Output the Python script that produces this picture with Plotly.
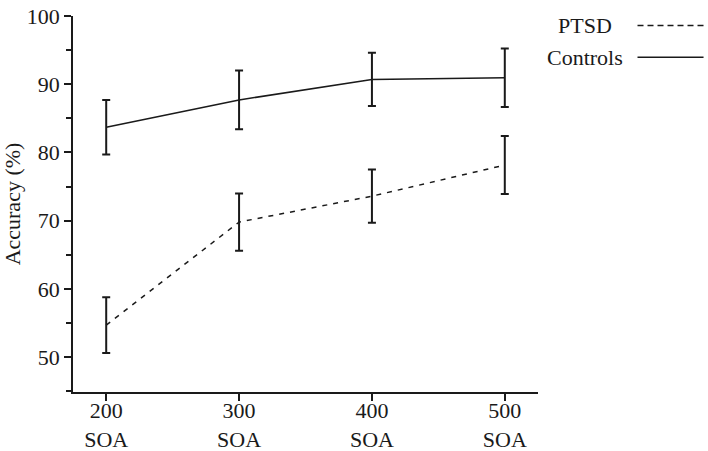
import plotly.graph_objects as go

categories = ["200<br>SOA", "300<br>SOA", "400<br>SOA", "500<br>SOA"]
controls = [83.7, 87.7, 90.7, 90.95]
controls_err = [4.0, 4.3, 3.9, 4.3]
ptsd = [54.7, 69.8, 73.6, 78.15]
ptsd_err = [4.1, 4.2, 3.9, 4.25]
y_ticks = [50, 60, 70, 80, 90, 100]

FONT = "Liberation Serif, Times New Roman, Times, serif"
INK = "#1a1a1a"

fig = go.Figure()
fig.add_trace(go.Scatter(
    x=categories, y=controls, mode="lines", name="Controls",
    line=dict(color=INK, width=1.5),
    error_y=dict(type="data", array=controls_err, color=INK, thickness=2, width=4),
    showlegend=False,
))
fig.add_trace(go.Scatter(
    x=categories, y=ptsd, mode="lines", name="PTSD",
    line=dict(color=INK, width=1.5, dash="5px,6px"),
    error_y=dict(type="data", array=ptsd_err, color=INK, thickness=2, width=4),
    showlegend=False,
))

fig.update_layout(
    width=708, height=451,
    margin=dict(l=73, r=170, t=16, b=59),
    plot_bgcolor="white", paper_bgcolor="white",
    font=dict(family=FONT, size=22, color=INK),
    xaxis=dict(
        type="category", range=[-0.25, 3.25], automargin=False,
        showline=True, linecolor=INK, linewidth=1.5,
        ticks="outside", ticklen=7, tickwidth=1.5, tickcolor=INK,
        showgrid=False, zeroline=False, ticklabelstandoff=-9,
        tickfont=dict(family=FONT, size=22, color=INK),
    ),
    yaxis=dict(
        range=[44.9, 100], tickvals=y_ticks, automargin=False,
        showline=True, linecolor=INK, linewidth=1.5,
        ticks="outside", ticklen=7, tickwidth=1.5, tickcolor=INK,
        minor=dict(dtick=5, tick0=0, ticks="outside", ticklen=5, tickwidth=1.5, tickcolor=INK),
        showgrid=False, zeroline=False,
        tickfont=dict(family=FONT, size=22, color=INK),
        title=dict(text="Accuracy (%)", font=dict(family=FONT, size=22, color=INK), standoff=6),
    ),
)

# Legend drawn manually: label on the left, line sample on the right
legend_items = [("PTSD", 0.975, "6px,4px"), ("Controls", 0.890, "solid")]
for label, yy, dash in legend_items:
    fig.add_annotation(
        x=1.102, y=yy, xref="paper", yref="paper", text=label, showarrow=False,
        xanchor="center", yanchor="middle",
        font=dict(family=FONT, size=22, color=INK),
    )
    fig.add_shape(
        type="line", xref="paper", yref="paper",
        x0=1.214, x1=1.356, y0=yy, y1=yy,
        line=dict(color=INK, width=1.5, dash=dash),
    )

fig.write_html("out.html")
